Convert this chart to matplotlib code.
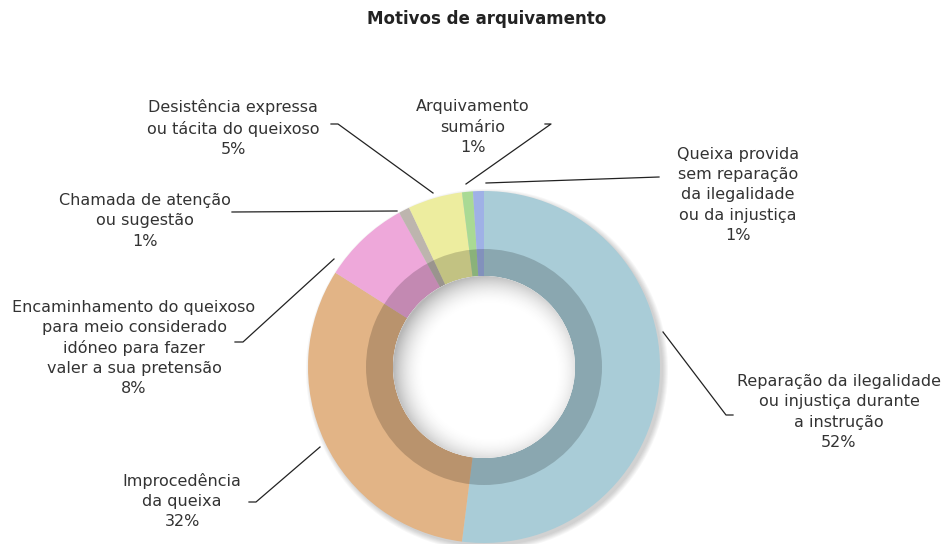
import matplotlib.pyplot as plt
import numpy as np
from matplotlib.patches import Circle, Wedge

plt.rcParams['font.family'] = ['DejaVu Sans']

# data, clockwise from the top
labels = [
    'Reparação da ilegalidade\nou injustiça durante\na instrução',
    'Improcedência\nda queixa',
    'Encaminhamento do queixoso\npara meio considerado\nidóneo para fazer\nvaler a sua pretensão',
    'Chamada de atenção\nou sugestão',
    'Desistência expressa\nou tácita do queixoso',
    'Arquivamento\nsumário',
    'Queixa provida\nsem reparação\nda ilegalidade\nou da injustiça',
]
values = [52, 32, 8, 1, 5, 1, 1]
colors = ['#A9CCD7', '#E2B486', '#EEA8DA', '#BDB5AE', '#EDED9F', '#A9DA94', '#9FB1E6']

# label centres and leader lines (pixel coords, y down)
label_pos = [(839, 412), (182, 501), (134, 348), (145, 221), (233, 128), (473, 127), (738, 195)]
leaders = [
    [(663, 332), (726, 415), (733, 415)],
    [(320, 447), (256, 502), (249, 502)],
    [(334, 259), (243, 342), (235, 342)],
    [(397, 211), (232, 212)],
    [(433, 193), (338, 124), (331, 124)],
    [(466, 184), (551, 124), (545, 124)],
    [(486, 183), (659, 177)],
]

cx, cy = 484, 367
r_out, r_mid, r_in = 176, 118, 91

fig = plt.figure(figsize=(9.45, 5.44), dpi=100)
ax = fig.add_axes([0, 0, 1, 1])

# soft outer shadow, down and to the right
for i in range(6):
    ax.add_patch(Circle((cx + 3, cy + 3), r_out + i, color='black', alpha=0.03, lw=0, zorder=0))

ax.pie(values, radius=r_out, center=(cx, cy), startangle=-90, counterclock=True,
       colors=colors, wedgeprops=dict(width=r_out - r_in, linewidth=0))
# darker inner band
ax.add_patch(Wedge((cx, cy), r_mid, 0, 360, width=r_mid - r_in, color='black', alpha=0.18, lw=0, zorder=3))

# hole with an inner shadow on the upper left
hole = Circle((cx, cy), r_in, color='white', lw=0, zorder=4)
ax.add_patch(hole)
gx, gy = np.meshgrid(np.arange(cx - r_in, cx + r_in + 1), np.arange(cy - r_in, cy + r_in + 1))
d = np.hypot(gx - (cx + 6), gy - (cy + 5))
t = np.clip((r_in + 6 - d) / 32, 0, 1)
t = t * (2 - t)
shade = 0.72 + 0.28 * t
img = ax.imshow(shade, cmap='gray', vmin=0, vmax=1, zorder=5, interpolation='bilinear',
                extent=(cx - r_in - 0.5, cx + r_in + 0.5, cy + r_in + 0.5, cy - r_in - 0.5))
img.set_clip_path(hole)

for lab, v, (x, y) in zip(labels, values, label_pos):
    ax.text(x, y, f'{lab}\n{v}%', ha='center', va='center', multialignment='center',
            fontsize=11.5, color='#333333', linespacing=1.42, zorder=7)

for pts in leaders:
    xs = [p[0] for p in pts]
    ys = [p[1] for p in pts]
    ax.plot(xs, ys, color='#222222', lw=0.9, zorder=7)

ax.text(487, 19, 'Motivos de arquivamento', ha='center', va='center',
        fontsize=12, fontweight='bold', color='#222222')

ax.set_xlim(0, 945)
ax.set_ylim(544, 0)
ax.set_aspect('equal')
ax.axis('off')

fig.savefig('out.png', dpi=100, facecolor='white')
